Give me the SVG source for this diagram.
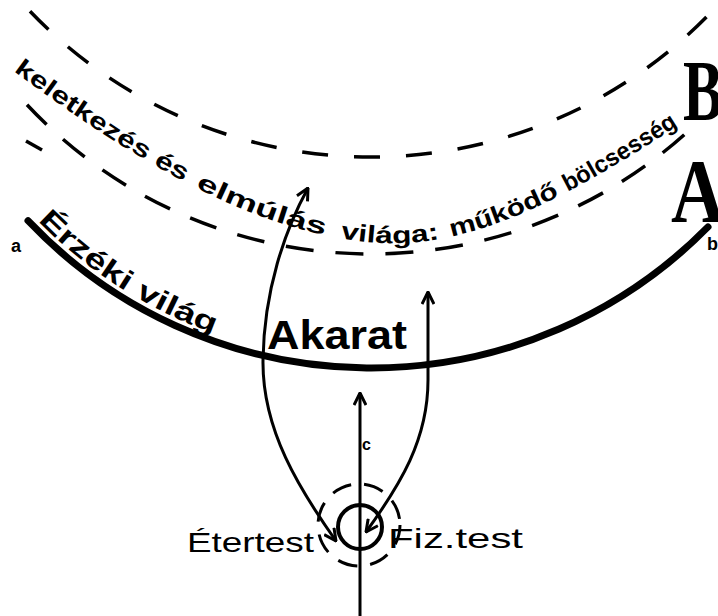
<svg xmlns="http://www.w3.org/2000/svg" width="718" height="616" viewBox="0 0 718 616">
<style>
.dash1{fill:none;stroke:#000;stroke-width:3.5;stroke-dasharray:26 26}
.dash2{fill:none;stroke:#000;stroke-width:3.5;stroke-dasharray:28 22}
.solid{fill:none;stroke:#000;stroke-width:7;stroke-linecap:round}
.conn{fill:none;stroke:#000;stroke-width:3}
.hand{font-family:"Liberation Sans","DejaVu Sans",sans-serif;fill:#000}
.cv{font-family:"Liberation Sans","DejaVu Sans",sans-serif;font-size:24px;font-weight:bold;fill:#000}
.big{font-family:"Liberation Serif","DejaVu Serif",serif;font-weight:bold;fill:#000}
</style>
<defs>
<marker id="v" viewBox="0 0 14 14" refX="13" refY="7" markerWidth="14" markerHeight="14" markerUnits="userSpaceOnUse" orient="auto-start-reverse">
<path d="M1,1 L13,7 L1,13" fill="none" stroke="#000" stroke-width="3" stroke-linejoin="round"/>
</marker>
<path id="tp1" d="M12,70 C120,150 250,235 380,243 C480,248 580,190 690,118 L718,100"/>
<path id="tp2" d="M38,221 A466,466 0 0 0 240,342"/>
</defs>
<rect width="718" height="616" fill="#fff"/>
<g id="arc-B">
<path class="dash1" d="M30,11.3 A472,472 0 0 0 718,5"/>
<path class="dash2" d="M27,104.7 A471,471 0 0 0 700,120"/>
<line x1="26" y1="141" x2="42" y2="150" stroke="#000" stroke-width="3.5"/>
<text class="big" x="683" y="120" font-size="86" textLength="40" lengthAdjust="spacingAndGlyphs">B</text>
</g>
<g id="arc-A">
<path class="solid" d="M28,220.7 A473,473 0 0 0 708,226.9"/>
<text class="big" x="671" y="222" font-size="92" textLength="54" lengthAdjust="spacingAndGlyphs">A</text>
<text class="hand" x="11" y="252" font-size="18" font-weight="bold">a</text>
<text class="hand" x="707" y="250" font-size="18" font-weight="bold">b</text>
</g>
<g id="label-B">
<text class="cv"><textPath href="#tp1" startOffset="2" textLength="203" lengthAdjust="spacingAndGlyphs">keletkezés és</textPath></text>
<text class="cv"><textPath href="#tp1" startOffset="218" textLength="138" lengthAdjust="spacingAndGlyphs">elmúlás</textPath></text>
<text class="cv"><textPath href="#tp1" startOffset="372" textLength="100" lengthAdjust="spacingAndGlyphs">világa:</textPath></text>
<text class="cv"><textPath href="#tp1" startOffset="484" textLength="116" lengthAdjust="spacingAndGlyphs">működő</textPath></text>
<text class="cv"><textPath href="#tp1" startOffset="609" textLength="129" lengthAdjust="spacingAndGlyphs">bölcsesség</textPath></text>
</g>
<g id="label-A">
<text class="hand" font-size="28" font-weight="bold"><textPath href="#tp2" textLength="210" lengthAdjust="spacingAndGlyphs">Érzéki világ</textPath></text>
</g>
<g id="akarat">
<text class="hand" x="267" y="349" font-size="40" font-weight="bold" textLength="140" lengthAdjust="spacingAndGlyphs">Akarat</text>
</g>
<g id="body">
<circle cx="360" cy="527" r="22" fill="none" stroke="#000" stroke-width="4"/>
<circle cx="359" cy="525" r="41" fill="none" stroke="#000" stroke-width="3" stroke-dasharray="20 13"/>
<text class="hand" x="187" y="552" font-size="28" textLength="127" lengthAdjust="spacingAndGlyphs">Étertest</text>
<text class="hand" x="388" y="548" font-size="28" textLength="135" lengthAdjust="spacingAndGlyphs">Fiz.test</text>
</g>
<g id="connectors">
<path class="conn" d="M336,541 C300,490 262,430 263,360 C264,290 285,230 308,188" marker-start="url(#v)" marker-end="url(#v)"/>
<path class="conn" d="M366,532 C400,485 428,440 428,380 L428,292" marker-start="url(#v)" marker-end="url(#v)"/>
<path class="conn" d="M360,616 L360,393" marker-end="url(#v)"/>
<text class="hand" x="362" y="450" font-size="16" font-weight="bold">c</text>
</g>
</svg>
